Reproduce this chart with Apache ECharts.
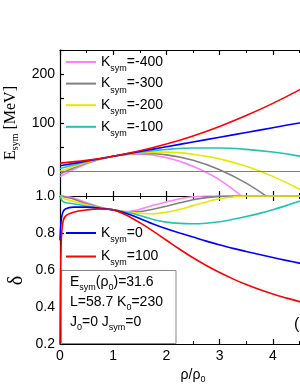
<!DOCTYPE html>
<html><head><meta charset="utf-8">
<script src="https://cdn.jsdelivr.net/npm/echarts/dist/echarts.min.js"></script>
<style>html,body{margin:0;padding:0;overflow:hidden;background:#fff;width:300px;height:388px}#c{width:340px;height:388px}</style>
</head><body><div id="c"></div><script>
// x values (rho/rho0) for the symmetry energy panel
const esymX = [0, 0.5, 1, 1.5, 2, 2.5, 3, 3.5, 4, 4.5, 5];
// Esym [MeV] for each Ksym
const esymKm400 = [-10.2, 16.3, 31.6, 35.8, 28.9, 10.9, -17.0, -58.4];
const esymKm300 = [-4.7, 17.7, 31.6, 37.2, 34.5, 23.5, 4.1, -23.6, -59.7];
const esymKm200 = [0.9, 19.0, 31.6, 38.6, 40.1, 35.9, 26.3, 11.1, -9.7, -36.0, -67.9];
const esymKm100 = [6.5, 20.4, 31.6, 40.0, 45.6, 48.5, 48.5, 45.8, 40.3, 32.0, 21.0];
const esymK0 = [12.0, 21.8, 31.6, 41.4, 51.2, 61.0, 70.7, 80.5, 90.3, 100.1, 109.9];
const esymK100 = [17.6, 23.2, 31.6, 42.8, 56.7, 73.5, 93.0, 115.2, 140.3, 168.1, 198.8];

// x values for the asymmetry panel
const deltaX = [0, 0.02, 0.05, 0.1, 0.25, 0.5, 0.75, 1.0, 1.25, 1.5, 1.75, 2.0, 2.25, 2.5, 2.75, 3.0, 3.25, 3.5, 3.75, 4.0, 4.25, 4.5, 4.75, 5.0];
const deltaKm400 = [1.0, 1.0, 1.0, 0.998, 0.99, 0.964, 0.94, 0.925, 0.916, 0.928, 0.95, 0.968, 0.985, 0.996, 1.0, 1.0, 1.0, 1.0, 1.0, 1.0, 1.0, 1.0, 1.0, 1.0];
const deltaKm300 = [1.0, 1.0, 0.998, 0.994, 0.984, 0.958, 0.938, 0.925, 0.913, 0.916, 0.928, 0.945, 0.963, 0.98, 0.991, 0.998, 1.0, 1.0, 1.0, 1.0, 1.0, 1.0, 1.0, 1.0];
const deltaKm200 = [1.0, 0.997, 0.99, 0.983, 0.972, 0.952, 0.936, 0.925, 0.914, 0.907, 0.904, 0.912, 0.928, 0.948, 0.968, 0.985, 0.995, 1.0, 1.0, 1.0, 1.0, 1.0, 1.0, 1.0];
const deltaKm100 = [1.0, 0.985, 0.972, 0.965, 0.958, 0.945, 0.935, 0.925, 0.912, 0.895, 0.873, 0.859, 0.852, 0.85, 0.853, 0.861, 0.874, 0.889, 0.906, 0.926, 0.948, 0.972, 0.99, 1.0];
const deltaK0 = [0.76, 0.86, 0.91, 0.93, 0.94, 0.94, 0.933, 0.925, 0.905, 0.879, 0.849, 0.823, 0.8, 0.778, 0.756, 0.736, 0.717, 0.7, 0.684, 0.668, 0.652, 0.637, 0.623, 0.61];
const deltaK100 = [0.2, 0.72, 0.85, 0.89, 0.912, 0.925, 0.93, 0.925, 0.896, 0.856, 0.81, 0.761, 0.712, 0.666, 0.624, 0.586, 0.552, 0.521, 0.494, 0.47, 0.449, 0.429, 0.411, 0.395];

const kNames = ['Ksym=-400', 'Ksym=-300', 'Ksym=-200', 'Ksym=-100', 'Ksym=0', 'Ksym=100'];
const colors = ['#ff80ff', '#808080', '#e8e800', '#20c4b0', '#0000ff', '#ff0000'];
const esymSets = [esymKm400, esymKm300, esymKm200, esymKm100, esymK0, esymK100];
const deltaSets = [deltaKm400, deltaKm300, deltaKm200, deltaKm100, deltaK0, deltaK100];
const textBox = ['{a|E}{s|sym}{a|(ρ}{s|0}{a|)=31.6}', '{a|L=58.7 K}{s|0}{a|=230}', '{a|J}{s|0}{a|=0 J}{s|sym}{a|=0}'];

const FONT = 'Liberation Sans, Arial, sans-serif';
const SERIF = 'Liberation Serif, Times New Roman, serif';
const richSub = {
  k: {fontSize: 14, fontFamily: FONT, color: '#000', lineHeight: 22},
  s: {fontSize: 9, fontFamily: FONT, color: '#000', verticalAlign: 'bottom', lineHeight: 14}
};

function zip(xs, ys) { return ys.map((y, i) => [xs[i], y]); }

function xAx(grid, pos, labels, name) {
  const a = {
    type: 'value', gridIndex: grid, position: pos, min: 0, max: 5, interval: 1,
    axisLine: {show: true, onZero: false, lineStyle: {color: '#000', width: 1.2}},
    axisTick: {show: true, inside: true, length: 5, lineStyle: {color: '#000', width: 1.2}},
    minorTick: {show: true, splitNumber: 2, length: 3, lineStyle: {color: '#000', width: 1}},
    splitLine: {show: false},
    axisLabel: {show: labels, color: '#000', fontSize: 14, fontFamily: FONT, margin: 5,
      formatter: v => (v <= 4 ? String(v) : '')}
  };
  if (name) {
    a.name = '{k|ρ/ρ}{s|0}';
    a.nameLocation = 'middle';
    a.nameGap = 22;
    a.nameTextStyle = {rich: {
      k: {fontSize: 14, fontFamily: FONT, color: '#000', lineHeight: 18},
      s: {fontSize: 9, fontFamily: FONT, color: '#000', verticalAlign: 'bottom', lineHeight: 12}
    }};
  }
  return a;
}

const series = [];
kNames.forEach((n, i) => {
  const s = {
    name: n, type: 'line', xAxisIndex: 0, yAxisIndex: 0, data: zip(esymX, esymSets[i]),
    smooth: 0.4, symbol: 'none', clip: true, color: colors[i],
    lineStyle: {color: colors[i], width: 1.6}, z: 3
  };
  if (i === 4) {
    s.markLine = {silent: true, symbol: 'none', label: {show: false},
      lineStyle: {color: '#808080', width: 1, type: 'solid'}, data: [{yAxis: 0}]};
  }
  series.push(s);
  series.push({
    name: n, type: 'line', xAxisIndex: 2, yAxisIndex: 1, data: zip(deltaX, deltaSets[i]),
    smooth: 0.35, symbol: 'none', clip: true, color: colors[i],
    lineStyle: {color: colors[i], width: 1.6}, z: 3
  });
});

function legendFmt(name) { return '{k|K}{s|sym}{k|=' + name.split('=')[1] + '}'; }

const option = {
  backgroundColor: '#fff',
  animation: false,
  grid: [
    {left: 60, top: 50, width: 266, height: 146, outerBoundsMode: 'none'},
    {left: 60, top: 196, width: 266, height: 148, outerBoundsMode: 'none'}
  ],
  xAxis: [xAx(0, 'bottom', false), xAx(0, 'top', false), xAx(1, 'bottom', true, true), xAx(1, 'top', false)],
  yAxis: [
    {type: 'value', gridIndex: 0, min: -50, max: 250, interval: 50,
      axisLine: {show: true, onZero: false, lineStyle: {color: '#000', width: 1.2}},
      axisTick: {show: true, inside: true, length: 4, lineStyle: {color: '#000', width: 1.2}},
      splitLine: {show: false},
      axisLabel: {color: '#000', fontSize: 14, fontFamily: FONT, margin: 5,
        formatter: v => (v % 100 === 0 ? String(v) : '')},
      name: '{k|E}{s|sym}{k| [MeV]}', nameLocation: 'middle', nameGap: 33, nameRotate: 90,
      nameTextStyle: {rich: {
        k: {fontSize: 16, fontFamily: SERIF, color: '#000', lineHeight: 20},
        s: {fontSize: 10, fontFamily: SERIF, color: '#000', verticalAlign: 'bottom', lineHeight: 14}
      }}},
    {type: 'value', gridIndex: 1, min: 0.2, max: 1.0, interval: 0.2,
      axisLine: {show: true, onZero: false, lineStyle: {color: '#000', width: 1.2}},
      axisTick: {show: true, inside: true, length: 4, lineStyle: {color: '#000', width: 1.2}},
      splitLine: {show: false},
      axisLabel: {color: '#000', fontSize: 14, fontFamily: FONT, margin: 5,
        formatter: v => v.toFixed(1)}}
  ],
  legend: [
    {data: kNames.slice(0, 4), orient: 'vertical', left: 66, top: 55, padding: 0, itemGap: 3.6,
      icon: 'rect', itemWidth: 30, itemHeight: 2, formatter: legendFmt, textStyle: {rich: richSub}, selectedMode: false},
    {data: kNames.slice(4), orient: 'vertical', left: 66, top: 226, padding: 0, itemGap: 5.5,
      icon: 'rect', itemWidth: 30, itemHeight: 2, formatter: legendFmt, textStyle: {rich: richSub}, selectedMode: false}
  ],
  graphic: [
    {type: 'rect', z: 1, shape: {x: 61.5, y: 270.5, width: 114.5, height: 73}, style: {fill: '#fff', stroke: '#8a8a8a', lineWidth: 1}},
    ...textBox.map((t, i) => ({
      type: 'text', z: 5, x: 70, y: 272.5 + i * 19.7,
      style: {text: t, verticalAlign: 'top', rich: {
        a: {fontSize: 14, fontFamily: FONT, fill: '#000', color: '#000', lineHeight: 20},
        s: {fontSize: 9, fontFamily: FONT, fill: '#000', color: '#000', verticalAlign: 'bottom', lineHeight: 14}
      }}
    })),
    {type: 'text', z: 5, x: 16.5, y: 280.5, rotation: Math.PI / 2,
      style: {text: 'δ', font: '20px ' + SERIF, fill: '#000', align: 'center', verticalAlign: 'middle'}},
    {type: 'text', z: 5, x: 294, y: 317, style: {text: '(b)', font: '16px ' + FONT, fill: '#000'}}
  ],
  series: series
};
echarts.init(document.getElementById('c'), null, {renderer: 'canvas'}).setOption(option);
</script></body></html>
